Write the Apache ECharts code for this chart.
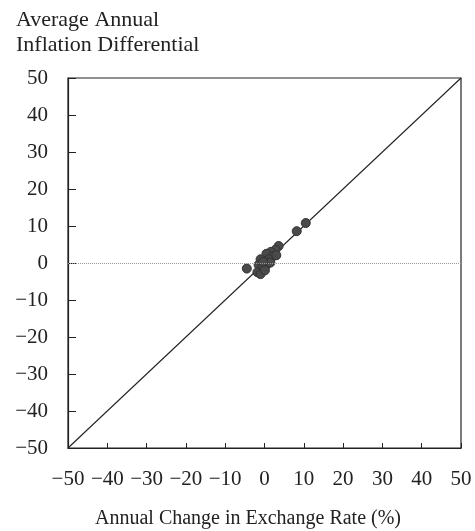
<!DOCTYPE html>
<html>
<head>
<meta charset="utf-8">
<script src="https://cdn.jsdelivr.net/npm/echarts@6/dist/echarts.min.js"></script>
<style>
  html, body { margin: 0; padding: 0; background: #fff; }
  #chart { width: 475px; height: 531px; }
</style>
</head>
<body>
<div id="chart"></div>
<script>
// exchange rate change (%) vs inflation differential, one dot per country
var rateChange = [10.5, 8.2, 3.6, 2.8, 1.6, 0.5, 2.1, 3.0, 1.0, 0.0, -1.0, -1.5, -0.5, 0.6, -1.8, -1.0, -4.5, 1.5, -0.4, 0.1];
var inflDiff   = [10.8, 8.6, 4.6, 3.6, 3.0, 2.5, 1.8, 2.1, 1.0, 0.5, 1.0, -0.5, -1.0, -0.4, -2.5, -3.0, -1.5, 0.1, 0.3, -2.0];
// 45 degree reference line
var diagX = [-50, 50];
var diagY = [-50, 50];

var serif = '"Liberation Serif", "DejaVu Serif", serif';
var minus = function (v) { return String(v).replace('-', '\u2212'); };

var chart = echarts.init(document.getElementById('chart'));
chart.setOption({
    animation: false,
    backgroundColor: '#fff',
    title: [{
        text: 'Average Annual\nInflation Differential',
        left: 11, top: 3,
        textStyle: { fontFamily: serif, fontSize: 22, fontWeight: 'normal', color: '#222', lineHeight: 25 }
    }, {
        text: 'Annual Change in Exchange Rate (%)',
        left: 90, top: 504,
        textStyle: { fontFamily: serif, fontSize: 20, fontWeight: 'normal', color: '#222' }
    }],
    grid: {
        left: 68, right: 14, top: 78, bottom: 83,
        show: true, borderColor: '#222', borderWidth: 1.2
    },
    xAxis: {
        type: 'value', min: -50, max: 50, interval: 10,
        axisLine: { onZero: false, lineStyle: { color: '#222', width: 1.2 } },
        axisTick: { inside: true, length: 5, lineStyle: { color: '#222' } },
        axisLabel: { margin: 21, fontFamily: serif, fontSize: 21, color: '#222', formatter: minus },
        splitLine: { show: false }
    },
    yAxis: {
        type: 'value', min: -50, max: 50, interval: 10,
        axisLine: { show: true, onZero: false, lineStyle: { color: '#222', width: 1.2 } },
        axisTick: { show: true, inside: true, length: 8, lineStyle: { color: '#222' } },
        axisLabel: { margin: 20, fontFamily: serif, fontSize: 21, color: '#222', formatter: minus },
        splitLine: { show: false }
    },
    series: [{
        type: 'line',
        data: diagX.map(function (x, i) { return [x, diagY[i]]; }),
        symbol: 'none',
        lineStyle: { color: '#222', width: 1.1 },
        markLine: {
            silent: true, symbol: 'none', label: { show: false },
            lineStyle: { color: '#999', type: 'dotted', width: 1 },
            data: [{ yAxis: 0 }]
        },
        z: 2
    }, {
        type: 'scatter',
        data: rateChange.map(function (x, i) { return [x, inflDiff[i]]; }),
        symbolSize: 9,
        itemStyle: { color: '#4a4a4a', borderColor: '#333', borderWidth: 1, opacity: 1 },
        z: 3
    }]
});
</script>
</body>
</html>
